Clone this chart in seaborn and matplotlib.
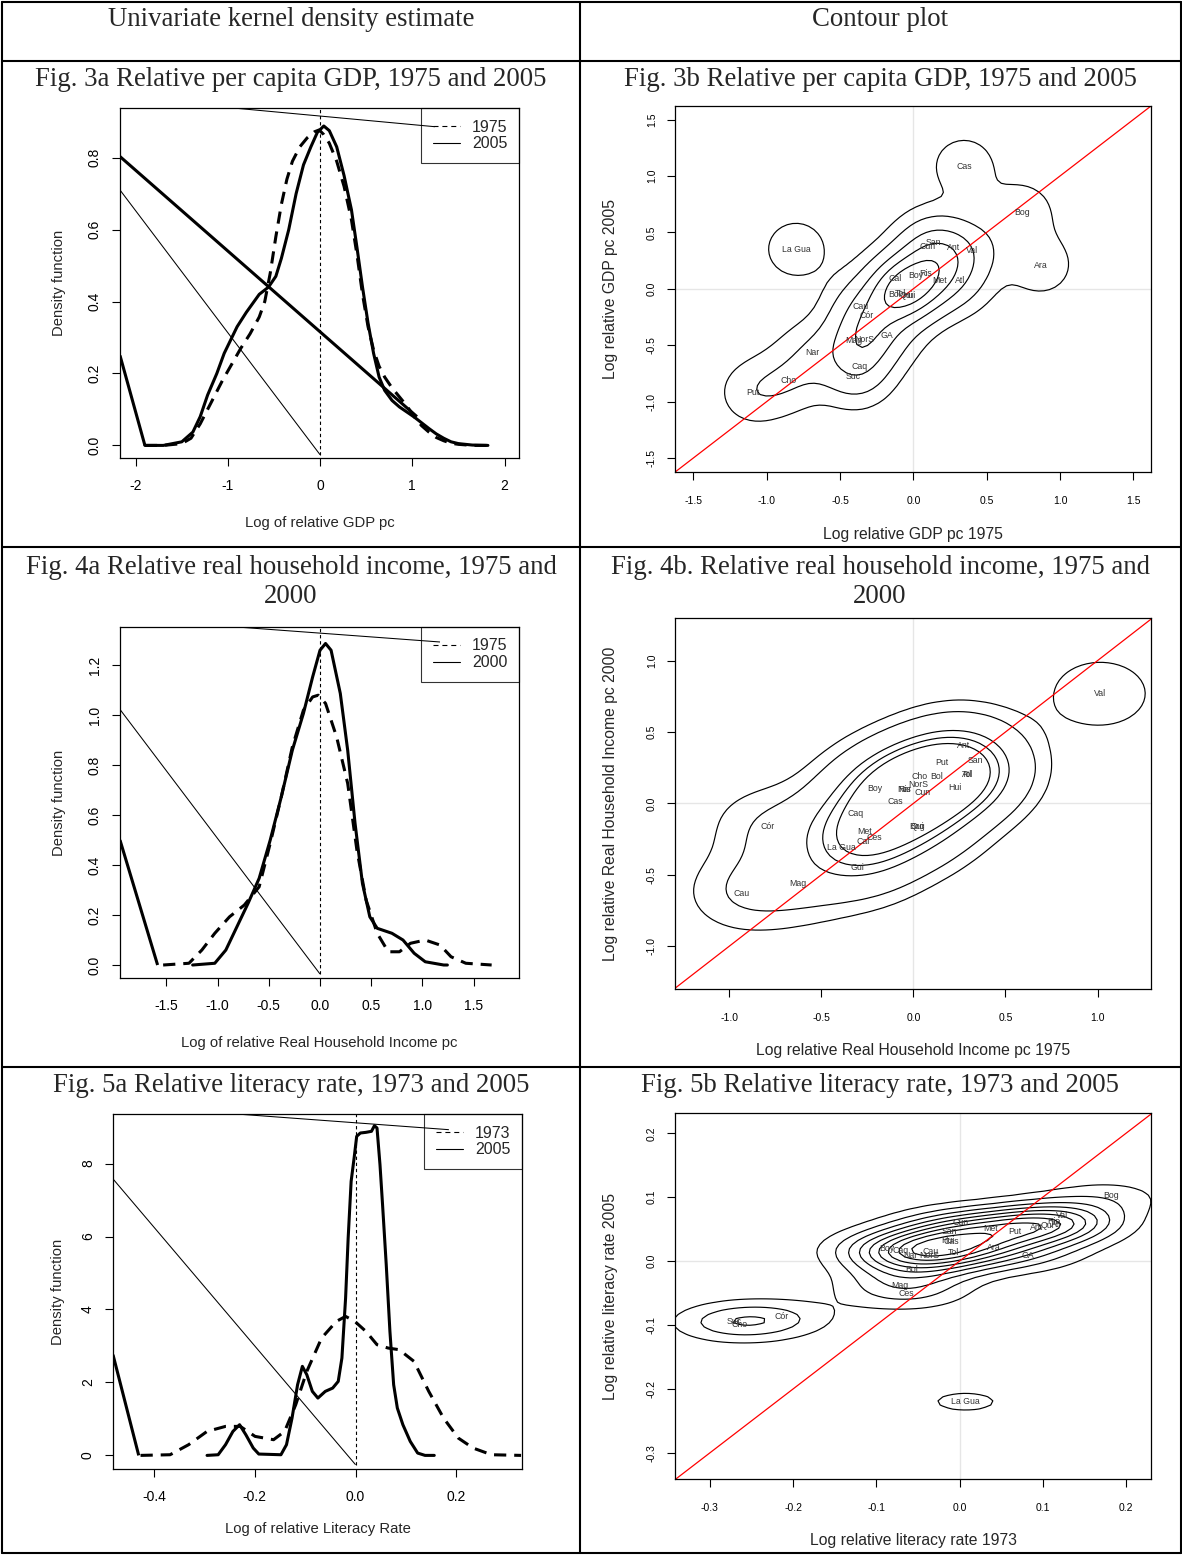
"""
Relative GDP pc, household income and literacy across Colombian departments:
univariate kernel densities (left column) and bivariate contour plots (right).
"""

import numpy as np
import matplotlib
matplotlib.use("Agg")
import matplotlib.pyplot as plt
import seaborn as sns
from matplotlib.lines import Line2D
from matplotlib.ticker import FormatStrFormatter

# ── Canvas ────────────────────────────────────────────────────────────────────
W, H, DPI = 1182, 1555, 100
SERIF = ["Liberation Serif", "DejaVu Serif"]
SANS = ["Liberation Sans", "DejaVu Sans"]

# ── Fig. 3a: log relative GDP pc densities ───────────────────────────────────
gdp05_x = [-1.90, -1.70, -1.50, -1.38, -1.30, -1.22, -1.12, -1.04, -0.90, -0.80,
           -0.66, -0.56, -0.48, -0.42, -0.34, -0.26, -0.18, -0.10, -0.03, 0.04,
           0.10, 0.18, 0.26, 0.34, 0.40, 0.46, 0.52, 0.58, 0.64, 0.70,
           0.78, 0.86, 0.94, 1.02, 1.10, 1.18, 1.26, 1.34, 1.42, 1.50, 1.65, 1.82]
gdp05_y = [0.0, 0.0, 0.01, 0.037, 0.08, 0.14, 0.20, 0.256, 0.33, 0.37,
           0.42, 0.44, 0.47, 0.52, 0.60, 0.70, 0.78, 0.83, 0.87, 0.888,
           0.875, 0.83, 0.75, 0.655, 0.55, 0.44, 0.34, 0.256, 0.19, 0.153,
           0.125, 0.107, 0.093, 0.079, 0.063, 0.047, 0.032, 0.02, 0.01, 0.005, 0.001, 0.0]
gdp75_x = [-1.90, -1.70, -1.50, -1.40, -1.30, -1.18, -1.06, -0.96, -0.86, -0.76,
           -0.66, -0.60, -0.54, -0.48, -0.42, -0.36, -0.30, -0.22, -0.14, -0.06,
           -0.01, 0.04, 0.10, 0.18, 0.26, 0.34, 0.40, 0.46, 0.52, 0.58,
           0.64, 0.70, 0.78, 0.86, 0.94, 1.02, 1.10, 1.18, 1.26, 1.34, 1.42, 1.50, 1.65, 1.86]
gdp75_y = [0.0, 0.0, 0.005, 0.02, 0.06, 0.12, 0.18, 0.225, 0.27, 0.31,
           0.357, 0.40, 0.48, 0.58, 0.67, 0.74, 0.79, 0.83, 0.855, 0.872,
           0.877, 0.864, 0.84, 0.79, 0.72, 0.627, 0.53, 0.42, 0.33, 0.265,
           0.22, 0.19, 0.16, 0.135, 0.11, 0.08, 0.055, 0.037, 0.022, 0.013, 0.006, 0.003, 0.0, 0.0]
# stray segments printed in the original panel (x pair, y pair)
gdp_thin_top = ([-0.94, 1.245], [0.938, 0.886])
gdp_thin_diag = ([-2.17, 0.0], [0.71, -0.026])
gdp_thick_diag = ([-2.17, 1.05], [0.803, 0.08])
gdp_thick_left = ([-2.17, -1.90], [0.25, 0.0])

# ── Fig. 4a: log relative real household income densities ───────────────────
inc00_x = [-1.243, -1.027, -0.919, -0.811, -0.702, -0.594, -0.486, -0.378, -0.270, -0.162,
           -0.072, 0.0, 0.054, 0.108, 0.198, 0.270, 0.342, 0.414, 0.486, 0.558,
           0.702, 0.810, 0.919, 1.027, 1.207, 1.243]
inc00_y = [0.0, 0.007, 0.060, 0.153, 0.247, 0.347, 0.500, 0.673, 0.860, 1.007,
           1.153, 1.260, 1.287, 1.260, 1.087, 0.860, 0.567, 0.327, 0.193, 0.147,
           0.127, 0.100, 0.047, 0.013, 0.0, 0.0]
inc75_x = [-1.531, -1.279, -1.153, -1.027, -0.883, -0.739, -0.594, -0.486, -0.378, -0.270,
           -0.162, -0.072, -0.018, 0.054, 0.162, 0.270, 0.360, 0.450, 0.558, 0.666,
           0.775, 0.883, 1.027, 1.171, 1.279, 1.423, 1.675]
inc75_y = [0.0, 0.007, 0.060, 0.127, 0.193, 0.240, 0.313, 0.487, 0.673, 0.873,
           1.020, 1.073, 1.080, 1.047, 0.913, 0.727, 0.460, 0.260, 0.127, 0.053,
           0.053, 0.087, 0.100, 0.080, 0.033, 0.007, 0.0]
inc_thin_top = ([-0.81, 1.171], [1.353, 1.293])
inc_thin_diag = ([-1.952, 0.0], [1.023, -0.036])
inc_thick_left = ([-1.952, -1.585], [0.50, 0.0])

# ── Fig. 5a: log relative literacy rate densities ────────────────────────────
lit05_x = [-0.2945, -0.2725, -0.2579, -0.2432, -0.2300, -0.2176, -0.2029, -0.1919, -0.1480, -0.1370,
           -0.1260, -0.1150, -0.1055, -0.0967, -0.0857, -0.0747, -0.0601, -0.0454, -0.0344, -0.0271,
           -0.0198, -0.0147, -0.0088, -0.0029, 0.0022, 0.0095, 0.0205, 0.0315, 0.0374, 0.0425,
           0.0484, 0.0535, 0.0608, 0.0681, 0.0755, 0.0828, 0.0938, 0.1084, 0.1231, 0.1377, 0.1560]
lit05_y = [0.0, 0.018, 0.293, 0.658, 0.841, 0.567, 0.201, 0.037, 0.018, 0.293,
           1.024, 1.938, 2.441, 2.212, 1.755, 1.572, 1.755, 1.846, 2.029, 2.669,
           4.314, 5.960, 7.514, 8.154, 8.748, 8.839, 8.857, 8.885, 9.040, 8.976,
           7.971, 6.874, 5.229, 3.400, 1.938, 1.298, 0.841, 0.384, 0.064, 0.0, 0.0]
lit73_x = [-0.4264, -0.3678, -0.3311, -0.2945, -0.2579, -0.2286, -0.1993, -0.1626, -0.1407, -0.1187,
           -0.0967, -0.0674, -0.0381, -0.0198, -0.0015, 0.0205, 0.0425, 0.0645, 0.0864, 0.1158,
           0.1451, 0.1744, 0.2037, 0.2330, 0.2696, 0.3282]
lit73_y = [0.0, 0.018, 0.293, 0.658, 0.795, 0.795, 0.521, 0.430, 0.658, 1.389,
           2.303, 3.217, 3.674, 3.811, 3.674, 3.400, 3.035, 2.943, 2.898, 2.578,
           1.755, 1.024, 0.475, 0.201, 0.018, 0.0]
lit_thin_top = ([-0.236, 0.185], [9.36, 8.93])
lit_thin_diag = ([-0.481, 0.0], [7.58, -0.256])
lit_thick_left = ([-0.481, -0.43], [2.76, 0.0])

# ── Fig. 3b: departments, log relative GDP pc 1975 vs 2005 ───────────────────
gdp_dept = ["Cas", "Bog", "La Gua", "San", "Cun", "Ant", "Val", "Ara", "Cal", "Boy",
            "Ris", "Qui", "Met", "Atl", "Bol", "Tol", "Hui", "Cau", "Cór", "GA",
            "NorS", "Mag", "Nar", "Caq", "Suc", "Cho", "Put"]
gdp_1975 = [0.345, 0.738, -0.80, 0.136, 0.097, 0.272, 0.403, 0.869, -0.124, 0.018,
            0.084, -0.045, 0.181, 0.319, -0.125, -0.090, -0.029, -0.361, -0.322, -0.178,
            -0.333, -0.408, -0.686, -0.369, -0.408, -0.853, -1.094]
gdp_2005 = [1.087, 0.677, 0.352, 0.408, 0.379, 0.367, 0.335, 0.210, 0.087, 0.119,
            0.131, -0.060, 0.069, 0.069, -0.049, -0.040, -0.058, -0.155, -0.235, -0.418,
            -0.453, -0.462, -0.562, -0.692, -0.780, -0.810, -0.922]

# ── Fig. 4b: departments, log relative household income 1975 vs 2000 ────────
inc_dept = ["Val", "Ant", "San", "Put", "Cho", "Bol", "Atl", "Tol", "NorS", "Hui",
            "Boy", "Ris", "Nar", "Cun", "Cas", "Caq", "Cór", "Bog", "Qui", "Met",
            "Ces", "Cal", "La Gua", "Gui", "Mag", "Cau"]
inc_1975 = [1.015, 0.275, 0.338, 0.154, 0.035, 0.125, 0.292, 0.292, 0.025, 0.227,
            -0.210, -0.048, -0.048, 0.050, -0.096, -0.315, -0.792, 0.021, 0.021, -0.267,
            -0.213, -0.273, -0.392, -0.304, -0.627, -0.934]
inc_2000 = [0.769, 0.408, 0.303, 0.284, 0.191, 0.191, 0.205, 0.205, 0.135, 0.114,
            0.107, 0.098, 0.098, 0.077, 0.012, -0.070, -0.159, -0.159, -0.159, -0.193,
            -0.238, -0.270, -0.305, -0.445, -0.564, -0.627]

# ── Fig. 5b: departments, log relative literacy rate 1973 vs 2005 ────────────
lit_dept = ["Bog", "Val", "Ris", "Atl", "Qui", "Ant", "Put", "Met", "Cun", "San",
            "Hui", "Cas", "Tol", "Ara", "GA", "Boy", "Caq", "Cau", "Nar", "NorS",
            "Bol", "Mag", "Ces", "Suc", "Cho", "Cór", "La Gua"]
lit_1973 = [0.182, 0.123, 0.113, 0.116, 0.106, 0.092, 0.066, 0.037, 0.001, -0.012,
            -0.014, -0.010, -0.007, 0.041, 0.082, -0.087, -0.071, -0.035, -0.059, -0.037,
            -0.058, -0.072, -0.064, -0.271, -0.265, -0.214, 0.007]
lit_2005 = [0.102, 0.072, 0.062, 0.058, 0.056, 0.052, 0.047, 0.051, 0.060, 0.046,
            0.032, 0.031, 0.0135, 0.022, 0.009, 0.020, 0.017, 0.015, 0.009, 0.008,
            -0.0125, -0.038, -0.051, -0.094, -0.099, -0.087, -0.220]

# ── Table layout (pixel positions) ───────────────────────────────────────────
TABLE_X = [2, 580, 1180.5]
TABLE_Y = [2, 61, 547, 1067, 1553]
COL_CX = [291, 880]

CURVE_LW = 2.2
THIN_LW = 0.75


# ── Helpers ───────────────────────────────────────────────────────────────────
def px_axes(fig, box):
    left, top, right, bottom = box
    return fig.add_axes([left / W, 1 - bottom / H, (right - left) / W, (bottom - top) / H])


def place_labels(ax, box, xlabel_y, ylabel_x):
    left, top, right, bottom = box
    ax.xaxis.set_label_coords(0.5, (bottom - xlabel_y) / (bottom - top))
    ax.yaxis.set_label_coords((ylabel_x - left) / (right - left), 0.5)


def style_axes(ax, tick_size, pad_x, pad_y):
    for sp in ax.spines.values():
        sp.set_visible(True)
        sp.set_color("black")
        sp.set_linewidth(0.9)
    ax.tick_params(direction="out", length=6, width=0.8, colors="black",
                   labelsize=tick_size)
    ax.tick_params(axis="x", pad=pad_x)
    ax.tick_params(axis="y", pad=pad_y, labelrotation=90)
    for lab in ax.get_yticklabels():
        lab.set_va("center")


def kde2d(x, y, xlim, ylim, bw_scale=1.0, n=90):
    """Axis-aligned gaussian KDE on a grid (MASS::kde2d bandwidth rule, scaled)."""
    x = np.asarray(x, float)
    y = np.asarray(y, float)

    def bw(v):
        q25, q75 = np.percentile(v, [25, 75])
        return 1.06 * min(v.std(ddof=1), (q75 - q25) / 1.34) * len(v) ** -0.2

    hx, hy = bw(x) * bw_scale, bw(y) * bw_scale
    gx = np.linspace(*xlim, n)
    gy = np.linspace(*ylim, n)
    kx = np.exp(-0.5 * ((gx[:, None] - x[None, :]) / hx) ** 2)
    ky = np.exp(-0.5 * ((gy[:, None] - y[None, :]) / hy) ** 2)
    z = kx @ ky.T / (len(x) * 2 * np.pi * hx * hy)
    return gx, gy, z.T


def density_panel(fig, box, xlim, ylim, xticks, yticks, xfmt, yfmt,
                  old, new, strays, labels, xlabel, xlabel_y, ylabel_x):
    ax = px_axes(fig, box)

    for (sx, sy), lw in strays:
        ax.plot(sx, sy, color="black", lw=lw, solid_capstyle="butt")

    sns.lineplot(x=old[0], y=old[1], sort=False, estimator=None,
                 color="black", lw=CURVE_LW, ax=ax)
    ax.lines[-1].set_dashes((4, 2.6))
    sns.lineplot(x=new[0], y=new[1], sort=False, estimator=None,
                 color="black", lw=CURVE_LW, ax=ax)

    # vertical reference at zero, from the stray diagonal's foot to the top
    foot = strays[1][0][1][1]
    ax.plot([0, 0], [foot, ylim[1]], color="black", lw=0.8, dashes=(3, 2.5))

    handles = [Line2D([], [], color="black", lw=0.8, dashes=(4.5, 3.5)),
               Line2D([], [], color="black", lw=0.8)]
    leg = ax.legend(handles, labels, loc="upper right", bbox_to_anchor=(1, 1),
                    borderaxespad=0, fancybox=False, edgecolor="black",
                    facecolor="none", framealpha=None, fontsize=11.5,
                    handlelength=1.7, handletextpad=0.75, borderpad=0.72,
                    labelspacing=0.1)
    leg.get_frame().set_linewidth(0.8)

    ax.set_xlim(xlim)
    ax.set_ylim(ylim)
    ax.set_xticks(xticks)
    ax.set_yticks(yticks)
    ax.xaxis.set_major_formatter(FormatStrFormatter(xfmt))
    ax.yaxis.set_major_formatter(FormatStrFormatter(yfmt))
    ax.set_xlabel(xlabel, fontsize=10.7, va="center")
    ax.set_ylabel("Density function", fontsize=10.7, va="center")
    style_axes(ax, 10, 9.0, 7.0)
    place_labels(ax, box, xlabel_y, ylabel_x)
    return ax


def contour_panel(fig, box, xlim, ylim, ticks, names, xs, ys, bw_scale, levels,
                  xlabel, ylabel, xlabel_y, ylabel_x):
    ax = px_axes(fig, box)
    ax.axhline(0, color="#e6e6e6", lw=1.0, zorder=0)
    ax.axvline(0, color="#e6e6e6", lw=1.0, zorder=0)

    gx, gy, z = kde2d(xs, ys, xlim, ylim, bw_scale)
    ax.contour(gx, gy, z, levels=np.asarray(levels) * z.max(),
               colors="black", linewidths=0.85)
    ax.axline((0, 0), slope=1, color="red", lw=0.9)

    for name, x, y in zip(names, xs, ys):
        ax.text(x, y, name, fontsize=6.3, ha="center", va="center", color="#333333")

    ax.set_xlim(xlim)
    ax.set_ylim(ylim)
    ax.set_xticks(ticks)
    ax.set_yticks(ticks)
    ax.xaxis.set_major_formatter(FormatStrFormatter("%.1f"))
    ax.yaxis.set_major_formatter(FormatStrFormatter("%.1f"))
    ax.set_xlabel(xlabel, fontsize=11.3, va="center")
    ax.set_ylabel(ylabel, fontsize=11.3, va="center")
    style_axes(ax, 7.5, 11.0, 7.0)
    place_labels(ax, box, xlabel_y, ylabel_x)
    return ax


def draw_table(fig):
    x0, xm, x1 = TABLE_X
    for y in TABLE_Y:
        fig.add_artist(Line2D([x0 / W, x1 / W], [1 - y / H, 1 - y / H],
                              transform=fig.transFigure, color="black", lw=1.5))
    for x in TABLE_X:
        fig.add_artist(Line2D([x / W, x / W], [1 - TABLE_Y[0] / H, 1 - TABLE_Y[-1] / H],
                              transform=fig.transFigure, color="black", lw=1.5))

    def title(cx, cy, s):
        fig.text(cx / W, 1 - cy / H, s, ha="center", va="center",
                 family=SERIF, fontsize=19.3, linespacing=1.22)

    title(COL_CX[0], 20, "Univariate kernel density estimate")
    title(COL_CX[1], 20, "Contour plot")
    title(COL_CX[0], 79, "Fig. 3a Relative per capita GDP, 1975 and 2005")
    title(COL_CX[1], 79, "Fig. 3b Relative per capita GDP, 1975 and 2005")
    title(COL_CX[0], 582, "Fig. 4a Relative real household income, 1975 and\n2000")
    title(COL_CX[1], 582, "Fig. 4b. Relative real household income, 1975 and\n2000")
    title(COL_CX[0], 1086, "Fig. 5a Relative literacy rate, 1973 and 2005")
    title(COL_CX[1], 1086, "Fig. 5b Relative literacy rate, 1973 and 2005")


# ── Main ──────────────────────────────────────────────────────────────────────
def main():
    sns.set_theme(style="ticks")
    plt.rcParams["font.family"] = SANS
    plt.rcParams["axes.unicode_minus"] = False

    fig = plt.figure(figsize=(W / DPI, H / DPI), dpi=DPI, facecolor="white")

    density_panel(
        fig, (120, 108, 519, 458), (-2.17, 2.157), (-0.035, 0.938),
        [-2, -1, 0, 1, 2], [0.0, 0.2, 0.4, 0.6, 0.8], "%d", "%.1f",
        (gdp75_x, gdp75_y), (gdp05_x, gdp05_y),
        [(gdp_thin_top, THIN_LW), (gdp_thin_diag, THIN_LW),
         (gdp_thick_diag, CURVE_LW), (gdp_thick_left, CURVE_LW)],
        ["1975", "2005"], "Log of relative GDP pc", 523, 59)

    density_panel(
        fig, (120, 627, 519, 978), (-1.952, 1.942), (-0.052, 1.353),
        [-1.5, -1.0, -0.5, 0.0, 0.5, 1.0, 1.5], [0.0, 0.2, 0.4, 0.6, 0.8, 1.0, 1.2],
        "%.1f", "%.1f",
        (inc75_x, inc75_y), (inc00_x, inc00_y),
        [(inc_thin_top, THIN_LW), (inc_thin_diag, THIN_LW),
         (inc_thick_left, CURVE_LW)],
        ["1975", "2000"], "Log of relative Real Household Income pc", 1043, 59)

    density_panel(
        fig, (113, 1114, 522, 1469), (-0.481, 0.330), (-0.373, 9.36),
        [-0.4, -0.2, 0.0, 0.2], [0, 2, 4, 6, 8], "%.1f", "%d",
        (lit73_x, lit73_y), (lit05_x, lit05_y),
        [(lit_thin_top, THIN_LW), (lit_thin_diag, THIN_LW),
         (lit_thick_left, CURVE_LW)],
        ["1973", "2005"], "Log of relative Literacy Rate", 1529, 58)

    contour_panel(
        fig, (675, 106, 1151, 472), (-1.625, 1.62), (-1.624, 1.62),
        [-1.5, -1.0, -0.5, 0.0, 0.5, 1.0, 1.5],
        gdp_dept, gdp_1975, gdp_2005, 0.75, [0.075, 0.2, 0.4, 0.6, 0.8],
        "Log relative GDP pc 1975", "Log relative GDP pc 2005", 534, 611)

    contour_panel(
        fig, (675, 618, 1151, 989), (-1.294, 1.29), (-1.299, 1.298),
        [-1.0, -0.5, 0.0, 0.5, 1.0],
        inc_dept, inc_1975, inc_2000, 1.25, [0.05, 0.11, 0.3, 0.4, 0.5],
        "Log relative Real Household Income pc 1975",
        "Log relative Real Household Income pc 2000", 1051, 611)

    contour_panel(
        fig, (675, 1113, 1151, 1479), (-0.342, 0.230), (-0.341, 0.2317),
        [-0.3, -0.2, -0.1, 0.0, 0.1, 0.2],
        lit_dept, lit_1973, lit_2005, 1.0, [0.1, 0.2, 0.3, 0.4, 0.5, 0.6, 0.7, 0.8, 0.9],
        "Log relative literacy rate 1973", "Log relative literacy rate 2005", 1541, 611)

    draw_table(fig)
    fig.savefig("out.png", dpi=DPI, facecolor="white")
    plt.close(fig)


if __name__ == "__main__":
    main()
